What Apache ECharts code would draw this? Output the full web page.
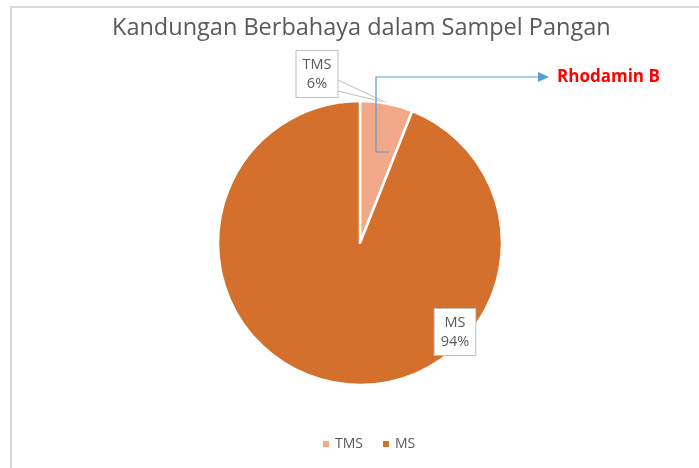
<!DOCTYPE html>
<html>
<head>
<meta charset="utf-8">
<script src="https://cdn.jsdelivr.net/npm/echarts@6/dist/echarts.min.js"></script>
<style>
  html, body { margin: 0; padding: 0; background: #fff; }
  #pieChart { width: 699px; height: 468px; }
</style>
</head>
<body>
<div id="pieChart"></div>
<script>
// data
const categories = ['TMS', 'MS']
const values = [6, 94]
const sliceColors = ['#f2a98a', '#d4702c']
const titleText = 'Kandungan Berbahaya dalam Sampel Pangan'
const noteText = 'Rhodamin B'

// callout boxes (placed by hand, like in the original)
const calloutPos = [
  { x: 317, y: 74, line: [[338, 80], [387, 103], [338, 91]] },
  { x: 455, y: 332, line: [[434, 340], [392, 354], [434, 349]] }
]

const chart = echarts.init(document.getElementById('pieChart'))

const option = {
  animation: false,
  color: sliceColors,
  title: {
    text: titleText,
    left: 107,
    top: 11,
    textStyle: {
      fontFamily: 'Open Sans',
      fontSize: 23.5,
      fontWeight: 'normal',
      color: '#595959'
    }
  },
  legend: {
    data: categories,
    bottom: 12,
    left: 316,
    icon: 'rect',
    itemWidth: 8,
    itemHeight: 8,
    itemGap: 18,
    textStyle: { fontFamily: 'Open Sans', fontSize: 14, color: '#595959' }
  },
  graphic: [
    {
      // chart frame
      type: 'rect',
      shape: { x: 11, y: 7, width: 800, height: 600 },
      style: { fill: 'none', stroke: '#d9d9d9', lineWidth: 2 },
      silent: true
    },
    {
      type: 'polyline',
      shape: { points: [[389, 152], [376, 152], [376, 77], [540, 77]] },
      style: { stroke: '#5b9bd5', lineWidth: 1.2, fill: 'none' },
      z: 10
    },
    {
      type: 'polygon',
      shape: { points: [[549, 77], [538, 72], [538, 82]] },
      style: { fill: '#5b9bd5' },
      z: 10
    },
    {
      type: 'text',
      x: 557,
      y: 77,
      style: {
        text: noteText,
        fill: '#ff0000',
        font: 'bold 17px "Open Sans"',
        verticalAlign: 'middle'
      },
      z: 10
    }
  ],
  series: [
    {
      type: 'pie',
      center: [360, 243],
      radius: 142,
      startAngle: 90,
      clockwise: true,
      silent: true,
      itemStyle: { borderColor: '#fff', borderWidth: 2.5 },
      data: categories.map((name, i) => ({ name, value: values[i] })),
      label: {
        show: true,
        formatter: '{b}\n{d}%',
        fontFamily: 'Open Sans',
        fontSize: 14.5,
        lineHeight: 19,
        color: '#595959',
        backgroundColor: '#fff',
        borderColor: '#bfbfbf',
        borderWidth: 1,
        padding: [4, 6, 4, 6],
        align: 'center'
      },
      labelLine: {
        show: true,
        lineStyle: { color: '#bfbfbf', width: 1 }
      },
      labelLayout: params => {
        const p = calloutPos[params.dataIndex]
        return {
          x: p.x,
          y: p.y,
          align: 'center',
          verticalAlign: 'middle',
          labelLinePoints: p.line
        }
      }
    }
  ]
}

chart.setOption(option)
</script>
</body>
</html>
